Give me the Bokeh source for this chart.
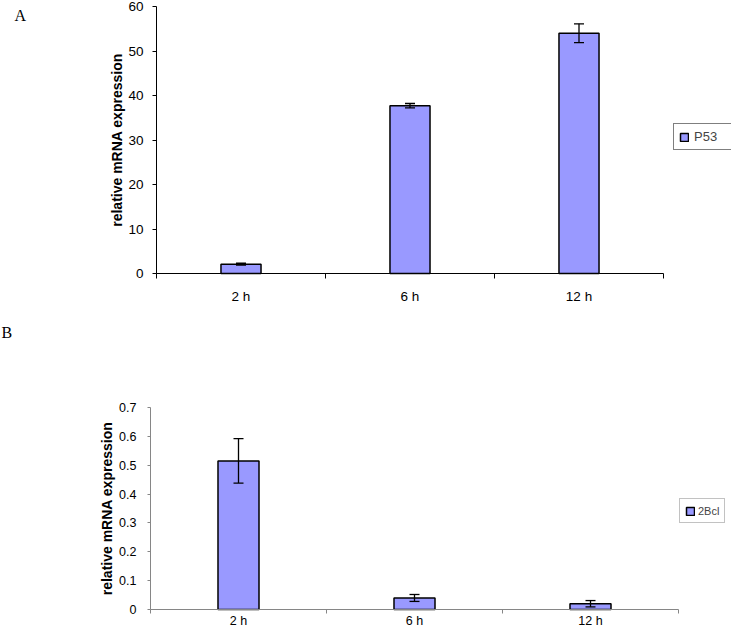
from bokeh.plotting import figure
from bokeh.models import (ColumnDataSource, Range1d, LinearAxis, FixedTicker,
                          SingleIntervalTicker, Whisker, TeeHead, Legend,
                          LegendItem, Label)
from bokeh.layouts import column
from bokeh.embed import file_html
from bokeh.resources import INLINE

# ---- data ----
categories = ["2 h", "6 h", "12 h"]
p53_values = [2.1, 37.7, 54.0]
p53_errors = [0.2, 0.5, 2.1]
bcl_values = [0.515, 0.04, 0.02]
bcl_errors = [0.077, 0.012, 0.011]
p53_ymax = 60
p53_step = 10
bcl_ymax = 0.7
bcl_step = 0.1

BAR = "#9999FF"
FONT = "Liberation Sans"
W = 731


def make_panel(values, errors, name, ymax, step, height, x_rng, y_rng,
               axis_color, tick_font, xlab_standoff, ytick_out, ylab_standoff,
               yaxis_standoff, title_font, xtick_out, bar_width,
               legend_loc, legend_font, leg_pad, leg_standoff, leg_lw,
               letter, letter_pos):
    n = len(categories)
    xs = [i + 0.5 for i in range(n)]
    src = ColumnDataSource(dict(
        x=xs, top=values,
        upper=[v + e for v, e in zip(values, errors)],
        lower=[v - e for v, e in zip(values, errors)],
    ))
    p = figure(width=W, height=height, output_backend="svg",
               toolbar_location=None, x_range=Range1d(*x_rng),
               y_range=Range1d(*y_rng), x_axis_type=None, y_axis_type=None,
               min_border_left=0, min_border_right=0,
               min_border_top=0, min_border_bottom=0)
    p.outline_line_color = None
    p.xgrid.visible = False
    p.ygrid.visible = False
    p.background_fill_color = "white"
    p.border_fill_color = "white"

    xaxis = LinearAxis(
        fixed_location=0, bounds=(0, n),
        ticker=FixedTicker(ticks=xs, minor_ticks=list(range(n + 1))),
        major_label_overrides={x: c for x, c in zip(xs, categories)},
        major_tick_out=0, major_tick_in=0,
        minor_tick_out=xtick_out, minor_tick_in=0,
        minor_tick_line_color=axis_color,
        axis_line_color=axis_color,
        major_label_text_font=FONT,
        major_label_text_font_size=tick_font,
        major_label_text_color="black",
        major_label_standoff=xlab_standoff,
    )
    p.add_layout(xaxis, "below")

    yaxis = LinearAxis(
        fixed_location=0, bounds=(0, ymax * 1.000001),
        ticker=SingleIntervalTicker(interval=step, num_minor_ticks=0),
        major_tick_out=ytick_out, major_tick_in=0,
        minor_tick_out=0, minor_tick_in=0,
        major_tick_line_color=axis_color,
        axis_line_color=axis_color,
        major_label_text_font=FONT,
        major_label_text_font_size=tick_font,
        major_label_text_color="black",
        major_label_standoff=yaxis_standoff,
        major_label_overrides={0: "0"},
        axis_label="relative mRNA expression",
        axis_label_text_font=FONT,
        axis_label_text_font_style="bold",
        axis_label_text_font_size=title_font,
        axis_label_text_color="black",
        axis_label_standoff=ylab_standoff,
    )
    p.add_layout(yaxis, "left")

    r = p.vbar(x="x", top="top", width=bar_width, bottom=0, source=src,
               fill_color=BAR, line_color="black", line_width=1.5)

    w = Whisker(source=src, base="x", upper="upper", lower="lower",
                dimension="height", level="overlay",
                line_color="black", line_width=1.3,
                upper_head=TeeHead(size=10, line_color="black", line_width=1.3),
                lower_head=TeeHead(size=10, line_color="black", line_width=1.3))
    p.add_layout(w)

    legend = Legend(items=[LegendItem(label=name, renderers=[r])],
                    location=legend_loc, margin=0, padding=leg_pad,
                    glyph_width=10, glyph_height=10,
                    label_standoff=leg_standoff, label_width=leg_lw,
                    label_height=13, label_text_font=FONT,
                    label_text_font_size=legend_font,
                    border_line_color=axis_color, border_line_width=1,
                    background_fill_color="white")
    p.add_layout(legend)

    lab = Label(x=letter_pos[0], y=letter_pos[1], text=letter,
                text_font="Liberation Serif", text_font_size="16px",
                text_color="black", text_baseline="alphabetic",
                text_align="left")
    p.add_layout(lab)
    return p


# panel A: canvas 0..318 px tall; x 0->156px, 3->663px ; y 0->273px, 60->6px
pA = make_panel(p53_values, p53_errors, "P53", p53_ymax, p53_step, 318,
                x_rng=(-156 / 169, 3 + (W - 663) / 169),
                y_rng=(-(318 - 273) / 4.45, 60 + 6 / 4.45),
                axis_color="black", tick_font="13.5px", xlab_standoff=10,
                ytick_out=4, ylab_standoff=0, yaxis_standoff=9,
                title_font="14px", xtick_out=5, bar_width=0.237,
                legend_loc=(673, 318 - 150), legend_font="13px", leg_pad=5,
                leg_standoff=5, leg_lw=70,
                letter="A", letter_pos=(-142 / 169, 258 / 4.45))

# panel B: canvas 318..631 px; x 0->150px, 3->678px ; y 0->609px, 0.7->407px
pxu = 202 / 0.7
pB = make_panel(bcl_values, bcl_errors, "2Bcl", bcl_ymax, bcl_step, 313,
                x_rng=(-150 / 176, 3 + (W - 678) / 176),
                y_rng=(-(631 - 609) / pxu, (609 - 318) / pxu),
                axis_color="#868686", tick_font="12.5px", xlab_standoff=0,
                ytick_out=3, ylab_standoff=1, yaxis_standoff=11,
                title_font="14px", xtick_out=4, bar_width=0.233,
                legend_loc=(679, 631 - 523), legend_font="11px", leg_pad=5,
                leg_standoff=3, leg_lw=20,
                letter="B", letter_pos=(-149 / 176, 277 / pxu))

layout = column(pA, pB, spacing=0)

open("out.html", "w").write(file_html(layout, INLINE))
